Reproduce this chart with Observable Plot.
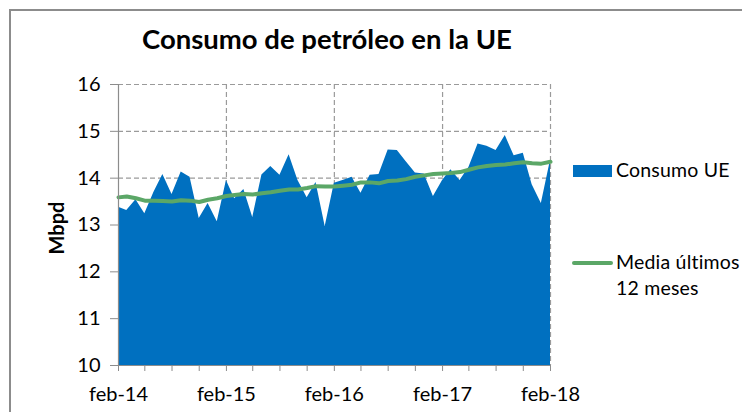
<!DOCTYPE html>
<html>
<head>
<meta charset="utf-8">
<script src="https://cdn.jsdelivr.net/npm/d3@7"></script>
<script src="https://cdn.jsdelivr.net/npm/@observablehq/plot@0.6"></script>
<style>
  html, body { margin: 0; padding: 0; background: #fff; overflow: hidden; }
  #wrap { position: relative; width: 742px; height: 412px; overflow: hidden; font-family: Lato, "Noto Sans", sans-serif; color: #000; }
  #frame { position: absolute; left: 9px; top: 9px; width: 760px; height: 420px; border-left: 2px solid #8c8c8c; border-top: 2px solid #8c8c8c; box-sizing: border-box; }
  #title { position: absolute; left: 142px; top: 25px; font-size: 27.5px; line-height: 27.5px; font-weight: 700; white-space: nowrap; }
  #ylab { position: absolute; left: 56px; top: 228px; font-size: 20px; font-weight: 700; line-height: 20px; white-space: nowrap; transform: translate(-50%, -50%) rotate(-90deg); }
  .lg { position: absolute; font-size: 19.5px; line-height: 26px; white-space: nowrap; letter-spacing: 0.2px; }
  #sw1 { position: absolute; left: 573px; top: 165px; width: 39px; height: 12px; background: #0070C0; }
  #sw2 { position: absolute; left: 572px; top: 261px; width: 41px; height: 4px; border-radius: 2px; background: #5BA767; }
  #chart { position: absolute; left: 0; top: 0; }
</style>
</head>
<body>
<div id="wrap">
  <div id="chart"></div>
  <div id="frame"></div>
  <div id="title">Consumo de petróleo en la UE</div>
  <div id="ylab">Mbpd</div>
  <div id="sw1"></div>
  <div class="lg" style="left:616px; top:157px;">Consumo UE</div>
  <div id="sw2"></div>
  <div class="lg" style="left:616px; top:249px;">Media últimos<br>12 meses</div>
</div>
<script>
// Monthly data, feb-14 .. feb-18
const startMonth = [2014, 1]; // year, month index (feb)
const consumo = [
  13.38, 13.31, 13.54, 13.24, 13.70, 14.08, 13.65, 14.13, 14.02, 13.14, 13.46, 13.07,
  13.95, 13.56, 13.76, 13.16, 14.07, 14.25, 14.06, 14.50, 13.95, 13.58, 13.91, 12.97,
  13.89, 13.95, 14.02, 13.68, 14.06, 14.08, 14.60, 14.59, 14.35, 14.11, 14.09, 13.61,
  13.95, 14.18, 13.95, 14.23, 14.73, 14.68, 14.59, 14.91, 14.48, 14.53, 13.86, 13.46,
  14.38
];
const media12 = [
  13.59, 13.61, 13.57, 13.52, 13.52, 13.51, 13.50, 13.53, 13.52, 13.49, 13.54, 13.57,
  13.62, 13.64, 13.66, 13.65, 13.68, 13.70, 13.73, 13.76, 13.76, 13.79, 13.83, 13.82,
  13.82, 13.84, 13.86, 13.91, 13.91, 13.89, 13.94, 13.95, 13.98, 14.03, 14.06, 14.09,
  14.10, 14.11, 14.13, 14.18, 14.23, 14.26, 14.28, 14.29, 14.32, 14.34, 14.32, 14.31,
  14.35
];
const yTicks = [10, 11, 12, 13, 14, 15, 16];
const xTickLabels = ["feb-14", "feb-15", "feb-16", "feb-17", "feb-18"];

const start = new Date(Date.UTC(startMonth[0], startMonth[1], 1));
const data = consumo.map((v, i) => ({
  date: d3.utcMonth.offset(start, i),
  consumo: v,
  media: media12[i]
}));
const dates = data.map(d => d.date);
const quarterTicks = dates.filter((d, i) => i % 3 === 0);
const yearTicks = dates.filter((d, i) => i % 12 === 0);
const yMin = yTicks[0], yMax = yTicks[yTicks.length - 1];

const chart = Plot.plot({
  width: 742,
  height: 412,
  marginLeft: 118,
  marginRight: 192,
  marginTop: 84,
  marginBottom: 47,
  style: { fontFamily: "Lato, 'Noto Sans', sans-serif", fontSize: "20px", color: "#000", background: "transparent" },
  x: { type: "utc", domain: [dates[0], dates[dates.length - 1]] },
  y: { domain: [yMin, yMax] },
  marks: [
    Plot.gridY(yTicks.slice(1), { stroke: "#9a9a9a", strokeOpacity: 1, strokeDasharray: "5,3", strokeWidth: 1.2 }),
    Plot.gridX(yearTicks.slice(1), { stroke: "#9a9a9a", strokeOpacity: 1, strokeDasharray: "5,3", strokeWidth: 1.2 }),
    Plot.areaY(data, { x: "date", y1: d => yMin, y2: "consumo", fill: "#0070C0", curve: "linear" }),
    Plot.lineY(data, { x: "date", y: "media", stroke: "#5BA767", strokeWidth: 4, curve: "linear" }),
    Plot.ruleX([dates[0]], { stroke: "#8c8c8c", strokeWidth: 1.2 }),
    Plot.ruleY([yMin], { stroke: "#8c8c8c", strokeWidth: 1.2 }),
    Plot.axisY({ ticks: yTicks, tickSize: 8, tickPadding: 10, stroke: "#8c8c8c", label: null, fontSize: 20, tickFormat: d => String(d) }),
    Plot.axisX({ ticks: quarterTicks, tickSize: 6, stroke: "#8c8c8c", tickFormat: () => "", label: null }),
    Plot.axisX({ ticks: yearTicks, tickSize: 0, tickPadding: 21, label: null, fontSize: 20,
                 tickFormat: (d) => xTickLabels[yearTicks.findIndex(t => +t === +d)] })
  ]
});
document.getElementById("chart").appendChild(chart);
</script>
</body>
</html>
